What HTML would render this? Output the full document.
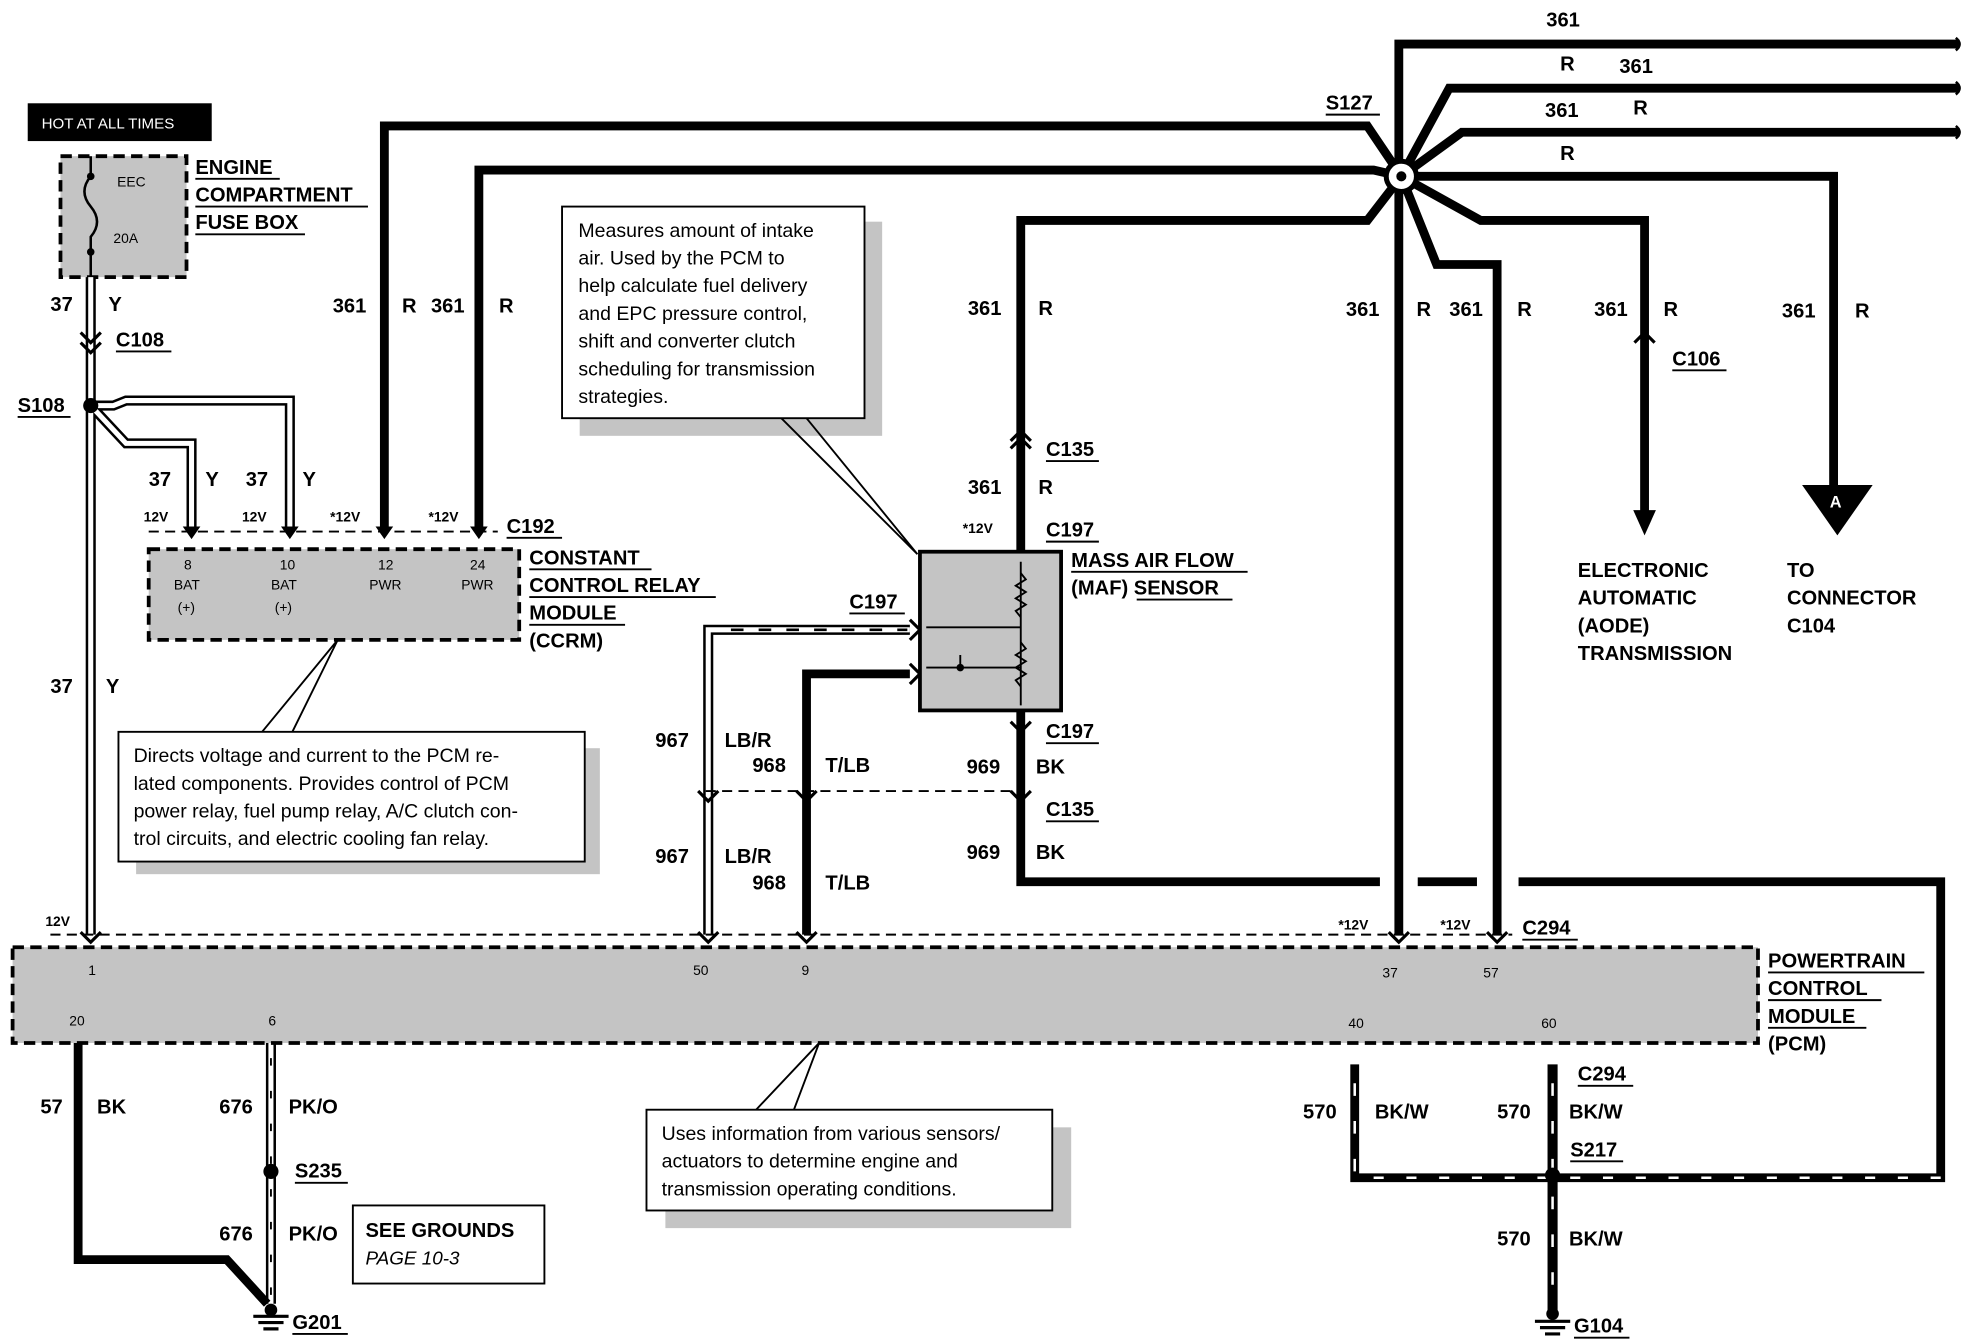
<!DOCTYPE html>
<html><head><meta charset="utf-8"><style>
html,body{margin:0;padding:0;background:#fff;}
svg{display:block;}
text{font-family:"Liberation Sans",sans-serif;}
.b{font-weight:bold;font-size:16px;fill:#000;}
.s{font-size:11px;fill:#000;}
.c{font-size:15.5px;fill:#000;}
</style></head><body>
<svg width="1976" height="1344" viewBox="0 0 1568 1067" preserveAspectRatio="none" xmlns="http://www.w3.org/2000/svg">
<rect width="1568" height="1067" fill="#fff"/>
<g fill="none" stroke-linejoin="miter">
<!-- hot box -->
<rect x="22" y="82" width="146" height="30" fill="#000"/>
</g>
<text x="33" y="102" font-size="12" fill="#fff" style="font-family:'Liberation Sans',sans-serif">HOT AT ALL TIMES</text>
<!-- fuse box -->
<rect x="48" y="124" width="100" height="96" fill="#c4c4c4" stroke="#000" stroke-width="3" stroke-dasharray="9,5"/>
<path d="M72 124 V140 q-10 12 0 24 q10 12 0 24 V220" stroke="#000" stroke-width="2" fill="none"/>
<circle cx="72" cy="140" r="3"/><circle cx="72" cy="200" r="3"/>
<text x="93" y="148" class="s">EEC</text><text x="90" y="193" class="s">20A</text>
<text x="155" y="138" class="b">ENGINE</text><text x="155" y="160" class="b">COMPARTMENT</text><text x="155" y="182" class="b">FUSE BOX</text>
<path d="M155 142H222M155 164H292M155 186H242" stroke="#000" stroke-width="1.5"/>

<!-- hollow Y wires -->
<g fill="none" stroke-linejoin="miter">
<path d="M72 220V742 M72 322 L100 352 H152 V420 M72 322 L90 322 L100 318 H230 V420" stroke="#000" stroke-width="8"/>
<path d="M72 220V742 M72 322 L100 352 H152 V420 M72 322 L90 322 L100 318 H230 V420" stroke="#fff" stroke-width="4"/>
<!-- 967 hollow -->
<path d="M722 500 H562 V742" stroke="#000" stroke-width="8"/>
<path d="M722 500 H562 V742" stroke="#fff" stroke-width="4"/>
<!-- 676 hollow -->
<path d="M215 828 V1035" stroke="#000" stroke-width="8"/>
<path d="M215 828 V1035" stroke="#fff" stroke-width="4"/>
<path d="M1232 845 V1040" stroke="#000" stroke-width="8"/>
<!-- R thick wires -->
<g stroke="#000" stroke-width="7">
<path d="M305 420 V100 H1085 L1112 140"/>
<path d="M380 420 V135 H1090 L1112 140"/>
<path d="M1110 742 V35 H1555"/>
<path d="M1112 140 L1150 70 H1555"/>
<path d="M1112 140 L1160 105 H1555"/>
<path d="M1112 140 H1455 V390"/>
<path d="M1112 140 L1175 175 H1305 V410"/>
<path d="M1112 140 L1140 210 H1188 V742"/>
<path d="M1112 140 L1085 175 H810 V438"/>
<path d="M810 564 V700 H1095 M1125 700 H1172 M1205 700 H1540 V935 H1075 V845"/>
<path d="M722 535 H640 V742"/>
<path d="M62 828 V1000 H180 L212 1035"/>
</g>
<path d="M1090 935 H1540" stroke="#fff" stroke-width="2" stroke-dasharray="8,18"/>
<path d="M1075 860 V930" stroke="#fff" stroke-width="2" stroke-dasharray="10,20"/>
<path d="M1232 860 V1030" stroke="#fff" stroke-width="2" stroke-dasharray="10,20"/>
<path d="M215 840 V1030" stroke="#000" stroke-width="1.5" stroke-dasharray="6,20"/>
<path d="M580 500 H720" stroke="#000" stroke-width="2" stroke-dasharray="10,12"/>
</g>
<circle cx="1112" cy="140" r="12" fill="#fff" stroke="#000" stroke-width="4"/>
<circle cx="1112" cy="140" r="4" fill="#000"/>
<circle cx="72" cy="322" r="6" fill="#000"/>
<circle cx="215" cy="930" r="6" fill="#000"/>
<circle cx="1232" cy="933" r="6" fill="#000"/>
<!-- arrows -->
<path d="M145 418 L152 428 L159 418 Z M223 418 L230 428 L237 418 Z M298 418 L305 428 L312 418 Z M373 418 L380 428 L387 418 Z" fill="#000"/>
<path d="M1296 405 L1305 425 L1314 405 Z" fill="#000"/>
<path d="M1430 385 H1486 L1458 425 Z" fill="#000"/>
<text x="1452" y="403" font-size="13" fill="#fff" font-weight="bold" style="font-family:'Liberation Sans',sans-serif">A</text>
<!-- connector chevrons -->
<g stroke="#000" stroke-width="2.5" fill="none">
<path d="M64 264 L72 272 L80 264 M64 272 L72 280 L80 272"/>
<path d="M1297 272 L1305 264 L1313 272"/>
<path d="M802 350 L810 342 L818 350 M802 356 L810 348 L818 356"/>
<path d="M802 573 L810 581 L818 573"/>
<path d="M802 628 L810 636 L818 628 M554 628 L562 636 L570 628 M632 628 L640 636 L648 628"/>
<path d="M554 740 L562 748 L570 740 M632 740 L640 748 L648 740 M64 740 L72 748 L80 740 M1102 740 L1110 748 L1118 740 M1180 740 L1188 748 L1196 740"/>
<path d="M722 492 L730 500 M722 508 L730 500 M722 527 L730 535 M722 543 L730 535"/>
</g>
<!-- dashed connector lines -->
<path d="M118 422 H395 M560 628 H810 M40 742 H1200" stroke="#000" stroke-width="1.5" stroke-dasharray="8,5"/>
<!-- CCRM -->
<rect x="118" y="436" width="294" height="72" fill="#c4c4c4" stroke="#000" stroke-width="3" stroke-dasharray="9,5"/>
<text x="146" y="452" class="s">8</text><text x="222" y="452" class="s">10</text><text x="300" y="452" class="s">12</text><text x="373" y="452" class="s">24</text>
<text x="138" y="468" class="s">BAT</text><text x="215" y="468" class="s">BAT</text><text x="293" y="468" class="s">PWR</text><text x="366" y="468" class="s">PWR</text>
<text x="141" y="486" class="s">(+)</text><text x="218" y="486" class="s">(+)</text>
<text x="420" y="448" class="b">CONSTANT</text><text x="420" y="470" class="b">CONTROL RELAY</text><text x="420" y="492" class="b">MODULE</text><text x="420" y="514" class="b">(CCRM)</text>
<path d="M420 452H517M420 474H568M420 496H496" stroke="#000" stroke-width="1.5"/>
<!-- MAF -->
<rect x="730" y="438" width="112" height="126" fill="#c4c4c4" stroke="#000" stroke-width="3"/>
<path d="M810 446 V560 M735 498 H810 M735 530 H810 M762 530 V520" stroke="#000" stroke-width="1.5" fill="none"/>
<path d="M810 455 l4 5 l-8 5 l8 5 l-8 5 l8 5 l-8 5 l4 5 M810 510 l4 5 l-8 5 l8 5 l-8 5 l8 5 l-8 5 l4 5" stroke="#000" stroke-width="1.5" fill="none"/>
<circle cx="762" cy="530" r="3"/>
<text x="850" y="450" class="b">MASS AIR FLOW</text><text x="850" y="472" class="b">(MAF) SENSOR</text>
<path d="M850 454H990M902 476H978" stroke="#000" stroke-width="1.5"/>
<!-- PCM -->
<rect x="10" y="752" width="1385" height="76" fill="#c4c4c4" stroke="#000" stroke-width="3" stroke-dasharray="9,5"/>
<text x="70" y="774" class="s">1</text><text x="550" y="774" class="s">50</text><text x="636" y="774" class="s">9</text><text x="1097" y="776" class="s">37</text><text x="1177" y="776" class="s">57</text>
<text x="55" y="814" class="s">20</text><text x="213" y="814" class="s">6</text><text x="1070" y="816" class="s">40</text><text x="1223" y="816" class="s">60</text>
<text x="1403" y="768" class="b">POWERTRAIN</text><text x="1403" y="790" class="b">CONTROL</text><text x="1403" y="812" class="b">MODULE</text><text x="1403" y="834" class="b">(PCM)</text>
<path d="M1403 772H1527M1403 794H1493M1403 816H1481" stroke="#000" stroke-width="1.5"/>
<!-- callouts -->
<rect x="460" y="176" width="240" height="170" fill="#c4c4c4"/>
<rect x="446" y="164" width="240" height="168" fill="#fff" stroke="#000" stroke-width="1.5"/>
<path d="M620 332 L728 440 M640 332 L728 440" stroke="#000" stroke-width="1.5"/>
<text class="c"><tspan x="459" y="188">Measures amount of intake</tspan><tspan x="459" y="210">air. Used by the PCM to</tspan><tspan x="459" y="232">help calculate fuel delivery</tspan><tspan x="459" y="254">and EPC pressure control,</tspan><tspan x="459" y="276">shift and converter clutch</tspan><tspan x="459" y="298">scheduling for transmission</tspan><tspan x="459" y="320">strategies.</tspan></text>
<rect x="108" y="594" width="368" height="100" fill="#c4c4c4"/>
<rect x="94" y="581" width="370" height="103" fill="#fff" stroke="#000" stroke-width="1.5"/>
<path d="M208 581 L268 508 M232 581 L268 508" stroke="#000" stroke-width="1.5"/>
<text class="c"><tspan x="106" y="605">Directs voltage and current to the PCM re-</tspan><tspan x="106" y="627">lated components. Provides control of PCM</tspan><tspan x="106" y="649">power relay, fuel pump relay, A/C clutch con-</tspan><tspan x="106" y="671">trol circuits, and electric cooling fan relay.</tspan></text>
<rect x="528" y="895" width="322" height="80" fill="#c4c4c4"/>
<rect x="513" y="881" width="322" height="80" fill="#fff" stroke="#000" stroke-width="1.5"/>
<path d="M600 881 L650 828 M630 881 L650 828" stroke="#000" stroke-width="1.5"/>
<text class="c"><tspan x="525" y="905">Uses information from various sensors/</tspan><tspan x="525" y="927">actuators to determine engine and</tspan><tspan x="525" y="949">transmission operating conditions.</tspan></text>
<rect x="280" y="957" width="152" height="62" fill="#fff" stroke="#000" stroke-width="1.5"/>
<text x="290" y="982" class="b">SEE GROUNDS</text><text x="290" y="1004" font-size="15" font-style="italic">PAGE 10-3</text>
<!-- grounds -->
<g stroke="#000" stroke-width="2.5"><path d="M201 1045H229M205 1050H225M209 1055H221M1218 1049H1246M1222 1054H1242M1226 1059H1238"/></g>
<circle cx="215" cy="1040" r="5"/><circle cx="1232" cy="1043" r="5"/>
<!-- labels -->
<g class="b">
<text x="40" y="247" class="b">37</text><text x="86" y="247" class="b">Y</text>
<text x="92" y="275" class="b">C108</text>
<text x="14" y="327" class="b">S108</text>
<text x="118" y="386" class="b">37</text><text x="163" y="386" class="b">Y</text><text x="195" y="386" class="b">37</text><text x="240" y="386" class="b">Y</text>
<text x="40" y="550" class="b">37</text><text x="84" y="550" class="b">Y</text>
<text x="264" y="248" class="b">361</text><text x="319" y="248" class="b">R</text><text x="342" y="248" class="b">361</text><text x="396" y="248" class="b">R</text>
<text x="402" y="423" class="b">C192</text>
<text x="768" y="250" class="b">361</text><text x="824" y="250" class="b">R</text>
<text x="830" y="362" class="b">C135</text>
<text x="768" y="392" class="b">361</text><text x="824" y="392" class="b">R</text>
<text x="830" y="426" class="b">C197</text>
<text x="674" y="483" class="b">C197</text>
<text x="830" y="586" class="b">C197</text>
<text x="830" y="648" class="b">C135</text>
<text x="520" y="593" class="b">967</text><text x="575" y="593" class="b">LB/R</text>
<text x="597" y="613" class="b">968</text><text x="655" y="613" class="b">T/LB</text>
<text x="767" y="614" class="b">969</text><text x="822" y="614" class="b">BK</text>
<text x="520" y="685" class="b">967</text><text x="575" y="685" class="b">LB/R</text>
<text x="597" y="706" class="b">968</text><text x="655" y="706" class="b">T/LB</text>
<text x="767" y="682" class="b">969</text><text x="822" y="682" class="b">BK</text>
<text x="1227" y="21" class="b">361</text>
<text x="1238" y="56" class="b">R</text><text x="1285" y="58" class="b">361</text>
<text x="1226" y="93" class="b">361</text><text x="1296" y="91" class="b">R</text>
<text x="1238" y="127" class="b">R</text>
<text x="1052" y="87" class="b">S127</text>
<text x="1068" y="251" class="b">361</text><text x="1124" y="251" class="b">R</text><text x="1150" y="251" class="b">361</text><text x="1204" y="251" class="b">R</text>
<text x="1265" y="251" class="b">361</text><text x="1320" y="251" class="b">R</text>
<text x="1414" y="252" class="b">361</text><text x="1472" y="252" class="b">R</text>
<text x="1327" y="290" class="b">C106</text>
<text x="1208" y="742" class="b">C294</text>
<text x="1252" y="458" class="b">ELECTRONIC</text><text x="1252" y="480" class="b">AUTOMATIC</text><text x="1252" y="502" class="b">(AODE)</text><text x="1252" y="524" class="b">TRANSMISSION</text>
<text x="1418" y="458" class="b">TO</text><text x="1418" y="480" class="b">CONNECTOR</text><text x="1418" y="502" class="b">C104</text>
<text x="32" y="884" class="b">57</text><text x="77" y="884" class="b">BK</text>
<text x="174" y="884" class="b">676</text><text x="229" y="884" class="b">PK/O</text>
<text x="234" y="935" class="b">S235</text>
<text x="174" y="985" class="b">676</text><text x="229" y="985" class="b">PK/O</text>
<text x="232" y="1055" class="b">G201</text>
<text x="1034" y="888" class="b">570</text><text x="1091" y="888" class="b">BK/W</text>
<text x="1188" y="888" class="b">570</text><text x="1245" y="888" class="b">BK/W</text>
<text x="1252" y="858" class="b">C294</text>
<text x="1246" y="918" class="b">S217</text>
<text x="1188" y="989" class="b">570</text><text x="1245" y="989" class="b">BK/W</text>
<text x="1249" y="1058" class="b">G104</text>
</g>
<path d="M92 279H136M14 331H56M402 427H446M674 487H718M830 366H872M830 430H872M830 590H872M830 652H872M1052 91H1095M1327 294H1370M1208 746H1252M1252 862H1296M1246 922H1288M234 939H276M232 1059H276M1249 1062H1293" stroke="#000" stroke-width="1.5"/>
<g font-size="11" font-weight="bold">
<text x="114" y="414">12V</text><text x="192" y="414">12V</text><text x="262" y="414">*12V</text><text x="340" y="414">*12V</text>
<text x="764" y="423">*12V</text>
<text x="36" y="735">12V</text><text x="1062" y="738">*12V</text><text x="1143" y="738">*12V</text>
</g>
<!-- wire end squiggles -->
<g stroke="#000" stroke-width="2" fill="none">
<path d="M1552 30 q6 5 0 10 M1552 65 q6 5 0 10 M1552 100 q6 5 0 10"/>
</g>
</svg>
</body></html>
